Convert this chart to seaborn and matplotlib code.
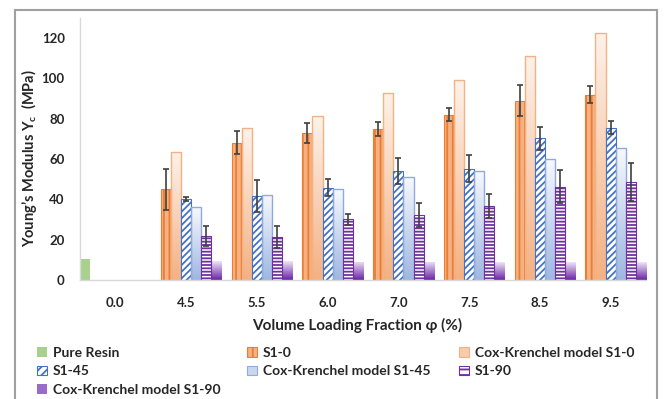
import numpy as np
import pandas as pd
import matplotlib
matplotlib.use("Agg")
import matplotlib.pyplot as plt
import seaborn as sns
from matplotlib.colors import LinearSegmentedColormap
from matplotlib.patches import Patch, Rectangle

# ---- data -------------------------------------------------------------
phi_labels = ["0.0", "4.5", "5.5", "6.0", "7.0", "7.5", "8.5", "9.5"]
loaded_phi = phi_labels[1:]

pure_resin = [10.6]

s1_0 = [45.0, 68.0, 73.0, 75.0, 82.0, 89.0, 92.0]
s1_0_err = [10.3, 5.7, 5.0, 3.5, 3.2, 7.8, 4.1]
ck_s1_0 = [63.3, 75.3, 81.3, 93.0, 99.0, 110.9, 122.8]

s1_45 = [40.2, 41.5, 45.8, 54.0, 55.3, 70.3, 75.5]
s1_45_err = [1.0, 8.0, 4.2, 6.5, 6.6, 5.6, 3.2]
ck_s1_45 = [36.1, 42.3, 45.3, 50.9, 54.1, 59.9, 65.6]

s1_90 = [22.0, 21.5, 30.1, 32.2, 36.8, 46.3, 48.6]
s1_90_err = [5.0, 5.4, 2.8, 6.0, 5.8, 8.2, 9.5]
ck_s1_90 = [9.3, 9.2, 9.1, 9.1, 8.9, 8.9, 8.9]

series_order = ["Pure Resin", "S1-0", "Cox-Krenchel model S1-0", "S1-45",
                "Cox-Krenchel model S1-45", "S1-90", "Cox-Krenchel model S1-90"]

rows = [dict(phi="0.0", series="Pure Resin", value=pure_resin[0], err=0.0)]
no_err = [0.0] * len(loaded_phi)
for name, vals, errs in [("S1-0", s1_0, s1_0_err),
                         ("Cox-Krenchel model S1-0", ck_s1_0, no_err),
                         ("S1-45", s1_45, s1_45_err),
                         ("Cox-Krenchel model S1-45", ck_s1_45, no_err),
                         ("S1-90", s1_90, s1_90_err),
                         ("Cox-Krenchel model S1-90", ck_s1_90, no_err)]:
    for p, v, e in zip(loaded_phi, vals, errs):
        rows.append(dict(phi=p, series=name, value=v, err=e))
df = pd.DataFrame(rows)
err_lookup = {(r.phi, r.series): r.err for r in df.itertuples()}

# ---- style --------------------------------------------------------------
sns.set_theme(style="white")
plt.rcParams["font.family"] = ["Lato", "DejaVu Sans"]
plt.rcParams["font.weight"] = "bold"
plt.rcParams["hatch.linewidth"] = 1.3
plt.rcParams["mathtext.fontset"] = "custom"
plt.rcParams["mathtext.rm"] = "Lato:bold"
plt.rcParams["mathtext.bf"] = "Lato:bold"
plt.rcParams["mathtext.it"] = "Lato:bold:italic"

solid = {
    "Pure Resin": dict(facecolor="#A9D18E", edgecolor="none", hatch=None),
    "S1-0": dict(facecolor="#F4B183", edgecolor="#ED7D31", hatch="|||"),
    "S1-45": dict(facecolor="white", edgecolor="#4472C4", hatch="/////"),
    "S1-90": dict(facecolor="white", edgecolor="#7030A0", hatch="-----"),
}
gradient = {
    "Cox-Krenchel model S1-0": ("#F4B183", "#FDF2EA", "#F4B183"),
    "Cox-Krenchel model S1-45": ("#9FB7E1", "#F7F9FD", "#8FAADC"),
    "Cox-Krenchel model S1-90": ("#6A22A6", "#EEE5F6", "none"),
}

fig = plt.figure(figsize=(6.64, 3.99), dpi=100)
ax = fig.add_axes([80 / 664, 1 - 280 / 399, 566 / 664, 262 / 399])

sns.barplot(data=df, x="phi", y="value", hue="series", order=phi_labels,
            hue_order=series_order, width=1, gap=0, errorbar=None,
            saturation=1, legend=False, ax=ax)

n_hue = len(series_order)
err_x, err_y, err_v = [], [], []
for patch in list(ax.patches):
    xc = patch.get_x() + patch.get_width() / 2
    cat = int(round(xc))
    k = int(round((xc - cat + 0.5) * n_hue - 0.5))
    name = series_order[k]
    h = patch.get_height()
    if name in solid:
        st = solid[name]
        patch.set_facecolor(st["facecolor"])
        patch.set_edgecolor(st["edgecolor"])
        patch.set_linewidth(0.8)
        if st["hatch"]:
            patch.set_hatch(st["hatch"])
    else:
        bottom_c, top_c, edge_c = gradient[name]
        patch.set_facecolor("none")
        patch.set_edgecolor(edge_c)
        patch.set_linewidth(1.0)
        cmap = LinearSegmentedColormap.from_list(name, [bottom_c, top_c])
        grad = np.linspace(0, 1, 128).reshape(-1, 1)
        x0, w = patch.get_x(), patch.get_width()
        im = ax.imshow(grad, cmap=cmap, extent=[x0, x0 + w, 0, h],
                       origin="lower", aspect="auto", interpolation="bilinear",
                       zorder=patch.get_zorder() - 0.1)
        im.set_clip_path(patch)
    e = err_lookup.get((phi_labels[cat], name), 0.0)
    if e > 0:
        err_x.append(xc)
        err_y.append(h)
        err_v.append(e)

ax.errorbar(err_x, err_y, yerr=err_v, fmt="none", ecolor="#404040",
            elinewidth=1.2, capsize=2.5, capthick=1.2, zorder=6)

ax.set_xlim(-0.5, len(phi_labels) - 0.5)
ax.set_ylim(0, 130)
ax.set_yticks(range(0, 121, 20))
ax.tick_params(axis="both", length=0, labelsize=9.5)
ax.tick_params(axis="y", pad=11)
ax.tick_params(axis="x", pad=12)
for lab in ax.get_xticklabels() + ax.get_yticklabels():
    lab.set_fontweight("bold")

for side in ["top", "right"]:
    ax.spines[side].set_visible(False)
for side in ["left", "bottom"]:
    ax.spines[side].set_color("#D9D9D9")
    ax.spines[side].set_linewidth(1.0)

ax.set_xlabel("")
ax.set_ylabel("")
fig.text(29 / 664, 1 - 158 / 399, "Young\u2019s Modulus $\\mathbf{Y}_\\mathbf{c}$  (MPa)",
         rotation=90, ha="center", va="center", fontsize=10.5, fontweight="bold")
fig.text(357 / 664, 1 - 325 / 399, "Volume Loading Fraction \u03c6 (%)",
         ha="center", va="center", fontsize=11, fontweight="bold")

# ---- legend (three columns, filled row by row) ---------------------------
handles = {
    "Pure Resin": Patch(facecolor="#A9D18E", edgecolor="none"),
    "S1-0": Patch(facecolor="#F4B183", edgecolor="#ED7D31", hatch="|||", lw=0.8),
    "Cox-Krenchel model S1-0": Patch(facecolor="#F8CBAD", edgecolor="#F4B183", lw=0.8),
    "S1-45": Patch(facecolor="white", edgecolor="#4472C4", hatch="////", lw=0.8),
    "Cox-Krenchel model S1-45": Patch(facecolor="#C9D7EE", edgecolor="#8FAADC", lw=0.8),
    "S1-90": Patch(facecolor="white", edgecolor="#7030A0", hatch="---", lw=0.8),
    "Cox-Krenchel model S1-90": Patch(facecolor="#9A6BC8", edgecolor="none"),
}
columns = [
    (37, ["Pure Resin", "S1-45", "Cox-Krenchel model S1-90"]),
    (247, ["S1-0", "Cox-Krenchel model S1-45"]),
    (459, ["Cox-Krenchel model S1-0", "S1-90"]),
]
for x_px, names in columns:
    fig.legend([handles[n] for n in names], names, loc="upper left",
               bbox_to_anchor=(x_px / 664, 1 - 347 / 399),
               frameon=False, handlelength=0.7, handleheight=0.7,
               handletextpad=0.45, labelspacing=0.45, borderpad=0,
               borderaxespad=0, prop=dict(weight="bold", size=10))

fig.add_artist(Rectangle((15 / 664, -0.05), (657 - 15) / 664, 1 - 10 / 399 + 0.05,
                         transform=fig.transFigure, fill=False,
                         edgecolor="#A0A0A0", linewidth=1.5))

fig.savefig("out.png", dpi=100)
